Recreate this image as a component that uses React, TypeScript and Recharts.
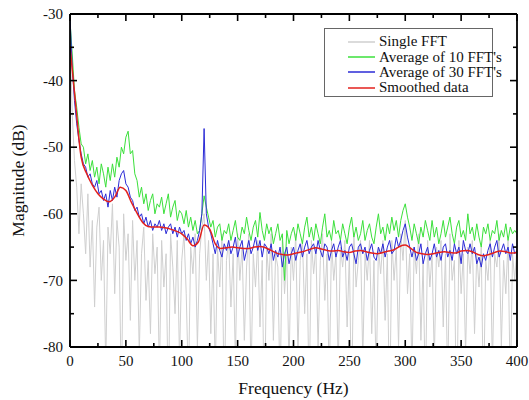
import { LineChart, Line, XAxis, YAxis, Legend, ReferenceLine } from 'recharts'

const FONT = '"Liberation Serif", "Times New Roman", "DejaVu Serif", serif'

// sample grid for the noisy spectra, Hz
const freqs = [
  0, 2, 4, 6, 8, 10, 12, 14, 16, 18, 20, 22, 24, 26, 28, 30, 32, 34, 36, 38,
  40, 42, 44, 46, 48, 50, 52, 54, 56, 58, 60, 62, 64, 66, 68, 70, 72, 74, 76, 78,
  80, 82, 84, 86, 88, 90, 92, 94, 96, 98, 100, 102, 104, 106, 108, 110, 112, 114, 116, 118,
  120, 122, 124, 126, 128, 130, 132, 134, 136, 138, 140, 142, 144, 146, 148, 150, 152, 154, 156, 158,
  160, 162, 164, 166, 168, 170, 172, 174, 176, 178, 180, 182, 184, 186, 188, 190, 192, 194, 196, 198,
  200, 202, 204, 206, 208, 210, 212, 214, 216, 218, 220, 222, 224, 226, 228, 230, 232, 234, 236, 238,
  240, 242, 244, 246, 248, 250, 252, 254, 256, 258, 260, 262, 264, 266, 268, 270, 272, 274, 276, 278,
  280, 282, 284, 286, 288, 290, 292, 294, 296, 298, 300, 302, 304, 306, 308, 310, 312, 314, 316, 318,
  320, 322, 324, 326, 328, 330, 332, 334, 336, 338, 340, 342, 344, 346, 348, 350, 352, 354, 356, 358,
  360, 362, 364, 366, 368, 370, 372, 374, 376, 378, 380, 382, 384, 386, 388, 390, 392, 394, 396, 398,
  400,
]

const singleFft = [
  -33, -45, -52, -56, -63, -55.5, -60, -66, -57, -68,
  -61, -74, -62, -59, -70, -64, -83, -62, -66, -58.5,
  -72, -61, -65, -88, -60, -67, -63, -76, -61, -70,
  -64, -81, -66, -62, -73, -67, -78, -63, -69, -65,
  -84, -64, -71, -66, -90, -63, -68, -75, -64, -82,
  -67, -63, -72, -86, -65, -69, -63, -80, -66, -62,
  -60, -70, -64, -78, -66, -84, -65, -71, -63, -89,
  -67, -64, -74, -66, -82, -63, -70, -65, -79, -68,
  -63, -85, -66, -71, -64, -77, -67, -92, -65, -70,
  -63, -79, -66, -68, -87, -64, -72, -66, -83, -65,
  -70, -63, -81, -67, -64, -75, -66, -88, -64, -69,
  -65, -80, -67, -63, -73, -66, -86, -64, -70, -66,
  -83, -65, -68, -64, -77, -66, -90, -63, -71, -67,
  -64, -82, -66, -70, -64, -78, -67, -85, -65, -69,
  -64, -76, -66, -91, -64, -70, -65, -80, -63, -67,
  -61, -72, -66, -84, -65, -69, -63, -79, -67, -88,
  -64, -71, -66, -82, -65, -68, -64, -77, -66, -86,
  -63, -70, -67, -93, -64, -72, -66, -81, -65, -69,
  -64, -78, -66, -71, -65, -89, -67, -70, -64, -83,
  -66, -68, -63, -80, -67, -72, -64, -87, -66, -70,
  -65,
]

const avg10 = [
  -31, -36, -41.5, -44, -47, -49.5, -50, -52.5, -51, -53.5,
  -52, -54.5, -53, -55.5, -52.5, -54, -56, -53, -55, -52.5,
  -54.5, -51.5, -53, -50, -51, -48.5, -47.6, -51, -50.5, -54,
  -55, -57.5, -56, -58.5, -57, -59.5, -58, -57, -60, -58.5,
  -59, -57.5, -60, -58.5, -57, -60.5, -59, -58, -61, -59.5,
  -60, -61.5, -59.5, -62, -60.5, -62.5, -61, -63, -62.5, -60,
  -57.3, -59, -60.5, -62, -61, -63.5, -62, -61.5, -64, -62.5,
  -63, -61.5, -64, -62.5, -61, -63.5, -64, -62, -63, -60.5,
  -62.5, -64, -62, -61, -63.5, -59.8, -62.5, -64, -61.5, -63,
  -62, -64.5, -63, -61.5, -64, -63, -70, -62.5, -64.5, -63,
  -62, -64, -61.5, -63, -64.5, -62, -60.5, -63.5, -62, -64,
  -61.5, -63, -64.5, -62, -60, -63.5, -62.5, -64, -61, -63,
  -62.5, -64, -61.5, -63, -64.5, -62, -60.5, -63.5, -62, -64,
  -63, -61, -64, -62.5, -61.5, -63.5, -64.5, -62, -60, -63,
  -62, -64, -61.5, -63, -60.5, -62.5, -61, -63.5, -61, -59.5,
  -58.5, -60.5, -62, -64, -61.5, -63, -64.5, -62, -63.5, -61,
  -62.5, -64, -61, -63.5, -62, -64.5, -63, -61, -63.5, -62,
  -60.5, -63, -64.5, -62, -61, -63.5, -62.5, -64, -60, -63,
  -62, -64, -61.5, -63.5, -65, -62, -63, -61.5, -64, -62.5,
  -63, -61, -64, -62.5, -63.5, -61.5, -64, -62, -63, -62.5,
  -63,
]

const avg30 = [
  -30.5, -38, -43, -46.5, -49, -51, -52.5, -53, -54.5, -54,
  -55.5, -56, -55, -57, -56.5, -58, -57, -59, -56.5, -58,
  -56, -57.5, -55, -54, -53.5, -55.5, -56, -57.5, -58, -59.5,
  -59, -60.5, -60, -61.5, -60.5, -62, -61, -62.5, -61.5, -62,
  -61, -62.5, -61.5, -63, -62, -61.5, -63, -62, -63.5, -62,
  -63, -62.5, -64, -63, -64.5, -63.5, -65, -64, -62.5, -60,
  -47.2, -60, -62, -63, -64.5, -66, -64, -65.5, -66.5, -64.5,
  -65.5, -64, -66, -65, -63.5, -66.5, -65, -64, -67, -65.5,
  -64, -66, -65, -63.5, -65.5, -64, -66.5, -64.5, -65, -66,
  -64.5, -67, -65.5, -66.5, -65, -68, -66, -65, -67.5, -66,
  -65, -67, -65.5, -64.5, -66.5, -65, -64, -66, -65, -64.5,
  -66, -64, -65.5, -66.5, -64.5, -65, -67, -65.5, -64.5, -66.5,
  -65, -64, -66.5, -65.5, -67, -65, -64.5, -66, -67.5, -65,
  -64.5, -66, -65, -67, -65.5, -64.5, -66.5, -67, -65, -66,
  -64.5, -66.5, -65, -64, -66, -65.5, -63.5, -65, -64, -62.5,
  -61.5, -63.5, -65, -66.5, -65, -67, -66, -64.5, -67.5, -66,
  -65, -67, -66, -64.5, -66.5, -65.5, -67, -65, -64.5, -66.5,
  -65.5, -67, -64.5, -66, -65, -67.5, -64, -65.5, -66, -64.5,
  -66, -65, -67.5, -66.5, -68, -66, -67, -65.5, -64.5, -66.5,
  -65, -64, -66.5, -65.5, -64.5, -66, -65, -67, -64.5, -66,
  -65.5,
]

// smoothed curve, coarser grid
const smoothFreqs = [
  0, 5, 10, 15, 20, 25, 30, 35, 40, 45, 50, 55, 60, 65, 70, 75, 80, 85, 90, 95,
  100, 105, 110, 115, 120, 125, 130, 135, 140, 145, 150, 155, 160, 165, 170, 175, 180, 185, 190, 195,
  200, 205, 210, 215, 220, 225, 230, 235, 240, 245, 250, 255, 260, 265, 270, 275, 280, 285, 290, 295,
  300, 305, 310, 315, 320, 325, 330, 335, 340, 345, 350, 355, 360, 365, 370, 375, 380, 385, 390, 395,
  400,
]

const smoothed = [
  -34.8, -43.5, -51.5, -54, -55.7, -57, -57.8, -58.2, -57.5, -56, -56.5, -58.3, -59.9, -61.3, -61.9, -62, -62, -62.1, -62.3, -62.6,
  -63, -63.8, -64.8, -64.2, -61.7, -62.3, -64.5, -65.2, -65.1, -65, -65.1, -65.2, -65.2, -65, -64.9, -65.1, -65.5, -65.9, -66.1, -66.2,
  -66, -65.8, -65.6, -65.3, -65.1, -65.3, -65.5, -65.6, -65.5, -65.7, -65.8, -65.6, -65.5, -65.7, -65.9, -66, -65.8, -65.6, -65.4, -64.9,
  -64.7, -65.2, -65.8, -66, -66.1, -66, -65.8, -65.7, -65.8, -65.9, -65.6, -65.5, -65.7, -66.1, -66.3, -66.1, -65.8, -65.6, -65.7, -65.9,
  -65.8,
]

const seriesNames = ['Single FFT', "Average of 10 FFT's", "Average of 30 FFT's", 'Smoothed data']

const xTicks = [0, 25, 50, 75, 100, 125, 150, 175, 200, 225, 250, 275, 300, 325, 350, 375, 400]
const yTicks = [-80, -75, -70, -65, -60, -55, -50, -45, -40, -35, -30]

const rows = freqs.map((f, i) => ({ f, single: singleFft[i], avg10: avg10[i], avg30: avg30[i] }))
const smoothRows = smoothFreqs.map((f, i) => ({ f, smooth: smoothed[i] }))

// chart box and plot frame
const W = 529
const H = 400
const M = { top: 14, right: 12, bottom: 53, left: 70 }
const X_DOMAIN = [0, 400]
const Y_DOMAIN = [-80, -30]
// tick mark lengths (px) turned into data units so they can be drawn as segments inside the frame
const hzPerPx = (X_DOMAIN[1] - X_DOMAIN[0]) / (W - M.left - M.right)
const dbPerPx = (Y_DOMAIN[1] - Y_DOMAIN[0]) / (H - M.top - M.bottom)
const tickLen = (major: boolean) => (major ? 7 : 4)

const frame = { stroke: '#000', strokeWidth: 1.8 }
const labelStyle = { fontFamily: FONT, fontSize: 15, fill: '#111' }

const renderXTick = (props: any) => {
  const { x, y, payload } = props
  if (payload.value % 50 !== 0) return <g />
  return (
    <text x={x} y={y + 19} textAnchor="middle" style={labelStyle}>
      {payload.value}
    </text>
  )
}

const renderYTick = (props: any) => {
  const { x, y, payload } = props
  if (payload.value % 10 !== 0) return <g />
  return (
    <text x={x - 7} y={y} dy="0.35em" textAnchor="end" style={labelStyle}>
      {payload.value}
    </text>
  )
}

const tickSegments = () => {
  const out: any[] = []
  xTicks.forEach((v) => {
    const d = tickLen(v % 50 === 0) * dbPerPx
    out.push([{ x: v, y: Y_DOMAIN[0] }, { x: v, y: Y_DOMAIN[0] + d }])
    out.push([{ x: v, y: Y_DOMAIN[1] }, { x: v, y: Y_DOMAIN[1] - d }])
  })
  yTicks.forEach((v) => {
    const d = tickLen(v % 10 === 0) * hzPerPx
    out.push([{ x: X_DOMAIN[0], y: v }, { x: X_DOMAIN[0] + d, y: v }])
    out.push([{ x: X_DOMAIN[1], y: v }, { x: X_DOMAIN[1] - d, y: v }])
  })
  return out
}

const LegendBox = ({ payload }: any) => {
  const items = [...(payload || [])].sort((a: any, b: any) => seriesNames.indexOf(a.value) - seriesNames.indexOf(b.value))
  return (
    <div
      style={{
        border: '1px solid #666',
        background: '#fff',
        boxSizing: 'border-box',
        width: 169,
        height: 69,
        paddingTop: 5,
        fontFamily: FONT,
        fontSize: 15,
        color: '#111',
        whiteSpace: 'nowrap',
      }}
    >
      {items.map((p: any) => (
        <div key={p.value} style={{ display: 'flex', alignItems: 'center', height: 15.4 }}>
          <svg width={54} height={10} style={{ flex: 'none' }}>
            <line x1={23} y1={5} x2={50} y2={5} style={{ stroke: p.color, strokeWidth: 1.5 }} />
          </svg>
          <span style={{ lineHeight: '15px' }}>{p.value}</span>
        </div>
      ))}
    </div>
  )
}

const xLabel = ({ viewBox }: any) => (
  <text
    x={viewBox.x + viewBox.width / 2}
    y={viewBox.y + viewBox.height - 6}
    textAnchor="middle"
    style={{ fontFamily: FONT, fontSize: 17.5, fill: '#111' }}
  >
    Frequency (Hz)
  </text>
)

const yLabel = ({ viewBox }: any) => {
  const cx = viewBox.x + 18
  const cy = viewBox.y + viewBox.height / 2
  return (
    <text
      x={cx}
      y={cy}
      transform={`rotate(-90 ${cx} ${cy})`}
      textAnchor="middle"
      dominantBaseline="central"
      style={{ fontFamily: FONT, fontSize: 17.5, fill: '#111' }}
    >
      Magnitude (dB)
    </text>
  )
}

const axisCommon = {
  tickLine: false,
  tickSize: 0,
  tickMargin: 0,
  interval: 0 as const,
  axisLine: frame,
}

export default function App() {
  return (
    <div style={{ position: 'absolute', left: 0, top: 0, background: '#fff', fontFamily: FONT }}>
      <LineChart width={W} height={H} data={rows} margin={{ top: 0, right: 0, bottom: 0, left: 0 }} style={{ fontFamily: FONT }}>
        <XAxis
          {...axisCommon}
          dataKey="f"
          type="number"
          domain={X_DOMAIN}
          allowDataOverflow
          ticks={xTicks}
          height={M.bottom}
          tick={renderXTick}
          label={{ content: xLabel }}
        />
        <XAxis {...axisCommon} xAxisId="top" orientation="top" type="number" domain={X_DOMAIN} ticks={xTicks} height={M.top} tick={false} />
        <YAxis
          {...axisCommon}
          type="number"
          domain={Y_DOMAIN}
          ticks={yTicks}
          allowDataOverflow
          width={M.left}
          tick={renderYTick}
          label={{ content: yLabel }}
        />
        <YAxis {...axisCommon} yAxisId="right" orientation="right" type="number" domain={Y_DOMAIN} ticks={yTicks} width={M.right} tick={false} />
        <Legend
          layout="vertical"
          align="center"
          verticalAlign="middle"
          wrapperStyle={{ top: 28, left: 324, width: 169 }}
          content={<LegendBox />}
        />
        <Line name={seriesNames[0]} dataKey="single" type="linear" stroke="#cfcfcf" strokeWidth={1} dot={false} isAnimationActive={false} />
        <Line name={seriesNames[1]} dataKey="avg10" type="linear" stroke="#3be03b" strokeWidth={1} dot={false} isAnimationActive={false} />
        <Line name={seriesNames[2]} dataKey="avg30" type="linear" stroke="#2b2bd6" strokeWidth={1} dot={false} isAnimationActive={false} />
        <Line name={seriesNames[3]} data={smoothRows} dataKey="smooth" type="monotone" stroke="#e3201c" strokeWidth={1.5} dot={false} isAnimationActive={false} />
        {tickSegments().map((seg, i) => (
          <ReferenceLine key={`tick-${i}`} segment={seg} stroke="#000" strokeWidth={1.6} ifOverflow="visible" />
        ))}
      </LineChart>
    </div>
  )
}
